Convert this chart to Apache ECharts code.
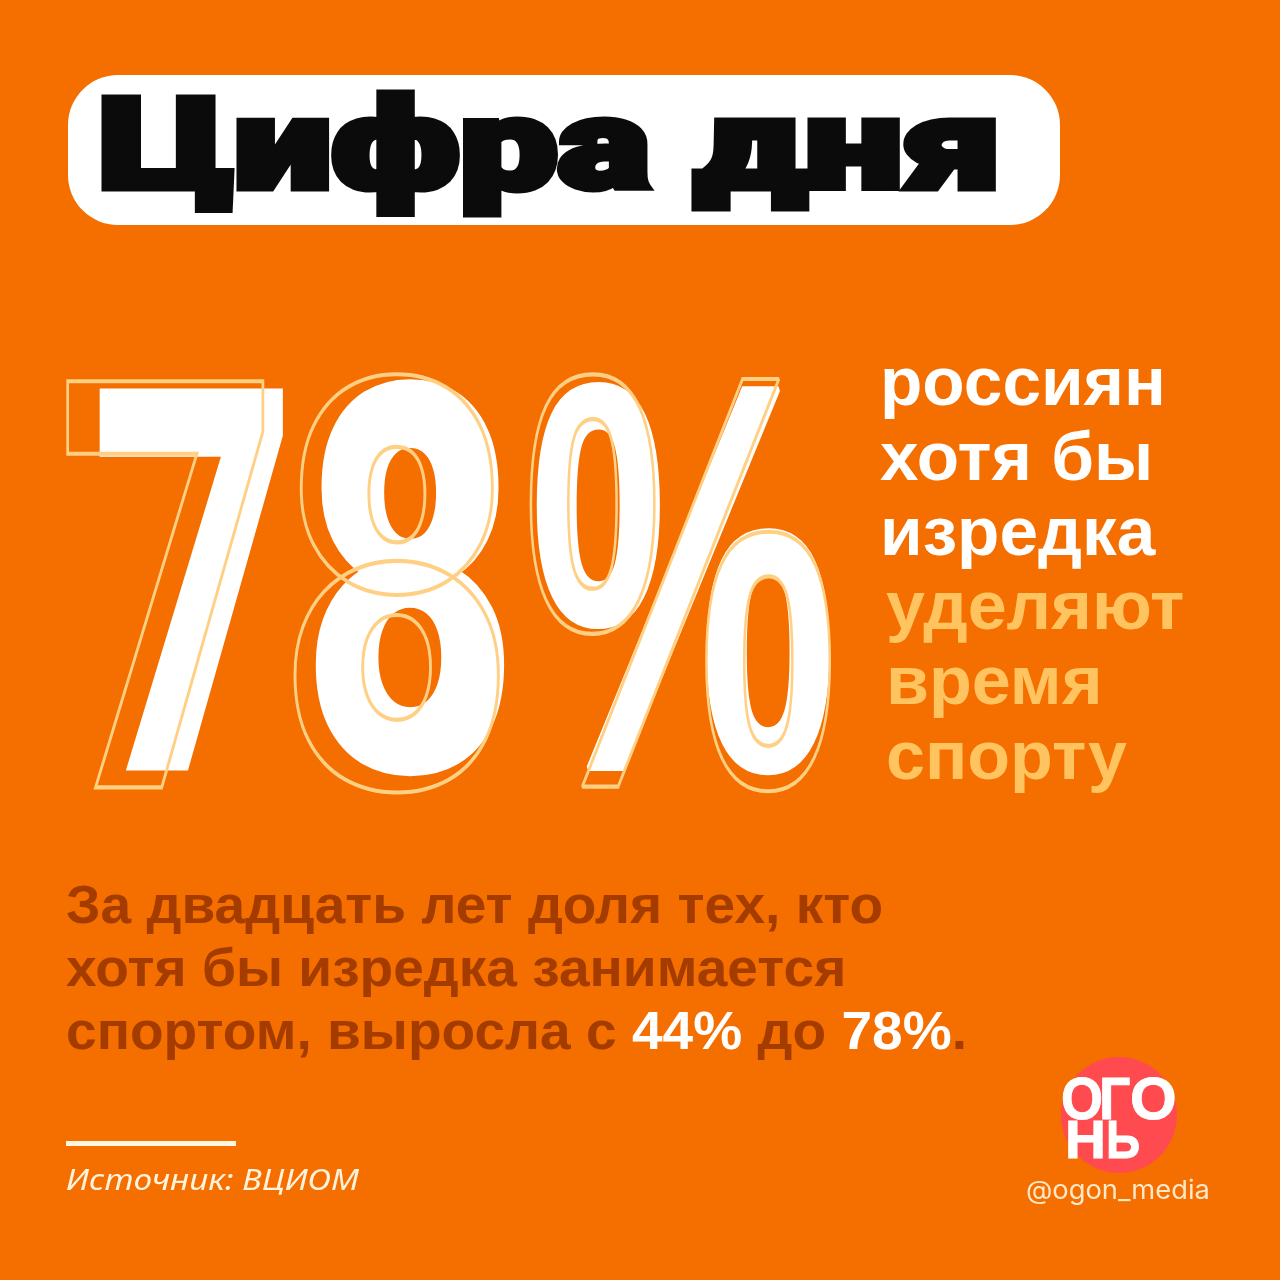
<!DOCTYPE html>
<html>
<head>
<meta charset="utf-8">
<script src="https://cdn.jsdelivr.net/npm/echarts@6/dist/echarts.min.js"></script>
<style>
html,body{margin:0;padding:0;background:#f46e00}
#main{width:1280px;height:1280px}
</style>
</head>
<body>
<div id="main"></div>
<script>
// the numbers of the card
var shareNow = 78;
var shareBefore = 44;
var titleText = 'Цифра дня';
var whoLines = ['россиян', 'хотя бы', 'изредка'];
var whatLines = ['уделяют', 'время', 'спорту'];
var bodyLines = ['За двадцать лет доля тех, кто', 'хотя бы изредка занимается'];
var sourceText = 'Источник: ВЦИОМ';
var handleText = '@ogon_media';
var logoTop = ['О', 'Г', 'О'];
var logoBottom = ['Н', 'Ь'];

var ORANGE = '#f46e00', LIGHT = '#ffc35f', OUTLINE = '#ffd084', DARK = '#a43c00', RED = '#ff4b4f';
var BOLD = 'bold {s}px "Liberation Sans"';
var HEAVY = '900 {s}px "Roboto"';

function txt(str, x, y, size, fill, o) {
    o = o || {};
    return {
        type: 'text', x: x, y: y, scaleX: o.sx || 1, scaleY: o.sy || 1, z: o.z || 5,
        style: {
            text: str, fill: fill,
            font: (o.font || BOLD).replace('{s}', size),
            stroke: o.stroke, lineWidth: o.lw, lineJoin: 'miter',
            verticalAlign: 'top', align: 'left'
        }
    };
}

var big = String(shareNow) + '%';
var glyphs = big.split('');
// white fill and thin outline sit at slightly different places; % looks better in Liberation
var glyphFont = [HEAVY, HEAVY, BOLD];
var whitePos = [[90.6, 367.4, 0.638, 0.96], [300, 363.5, 0.678, 0.97], [530, 341, 0.616, 0.983]];
var linePos = [[58, 359, 0.68, 1.02], [278, 357.7, 0.732, 1.022], [522, 327, 0.637, 1.058]];
var whiteEdge = [0, 0, 6];

var els = [];
els.push({type: 'rect', z: 1, shape: {x: 68, y: 75, width: 992, height: 150, r: 50}, style: {fill: '#fff'}});
els.push(txt(titleText, 99, 93, 126, '#0b0b0b', {font: HEAVY, stroke: '#0b0b0b', lw: 7, sx: 1.385, sy: 1}));

glyphs.forEach(function (g, i) {
    var p = whitePos[i];
    els.push(txt(g, p[0], p[1], 560, '#fff', {font: glyphFont[i], sx: p[2], sy: p[3], stroke: '#fff', lw: whiteEdge[i], z: 3}));
    var q = linePos[i];
    els.push(txt(g, q[0], q[1], 560, 'rgba(0,0,0,0)', {font: glyphFont[i], sx: q[2], sy: q[3], stroke: OUTLINE, lw: 4, z: 4}));
});

whoLines.forEach(function (t, i) {
    els.push(txt(t, 880, 352 + i * 75, 68, '#fff', {sx: 1.02}));
});
whatLines.forEach(function (t, i) {
    els.push(txt(t, 886, 576 + i * 75, 68, LIGHT, {sx: 1.03}));
});

bodyLines.forEach(function (t, i) {
    els.push(txt(t, 66, 881 + i * 63, 54, DARK, {sx: 1.02}));
});
els.push({
    type: 'text', x: 66, y: 1007, scaleX: 1.02, z: 5,
    style: {
        text: '{a|спортом, выросла с }{b|' + shareBefore + '%}{a| до }{b|' + shareNow + '%}{a|.}',
        rich: {
            a: {fill: DARK, font: BOLD.replace('{s}', 54)},
            b: {fill: '#fff', font: BOLD.replace('{s}', 54)}
        },
        verticalAlign: 'top'
    }
});

els.push({type: 'rect', z: 2, shape: {x: 66, y: 1141, width: 170, height: 5}, style: {fill: '#fff6e0'}});
els.push(txt(sourceText, 66, 1167, 29, '#fff3dc', {font: 'italic {s}px "Noto Sans"', sx: 1.154}));
els.push(txt(handleText, 1026, 1178, 26, '#ffe9c8', {font: '{s}px "Inter"', sx: 1.05}));

// logo
els.push({type: 'circle', z: 2, shape: {cx: 1119, cy: 1115, r: 58}, style: {fill: RED}});
[[1061, 1072, 0.9], [1099, 1072, 0.92], [1130, 1072, 1.0]].forEach(function (p, i) {
    els.push(txt(logoTop[i], p[0], p[1], 60, '#fff', {sx: p[2], stroke: '#fff', lw: 1}));
});
[[1065, 1116, 1.05], [1106, 1116, 0.88]].forEach(function (p, i) {
    els.push(txt(logoBottom[i], p[0], p[1], 54, '#fff', {sx: p[2], stroke: '#fff', lw: 1}));
});

var chart = echarts.init(document.getElementById('main'));
chart.setOption({
    backgroundColor: ORANGE,
    animation: false,
    graphic: {elements: els}
});
</script>
</body>
</html>
